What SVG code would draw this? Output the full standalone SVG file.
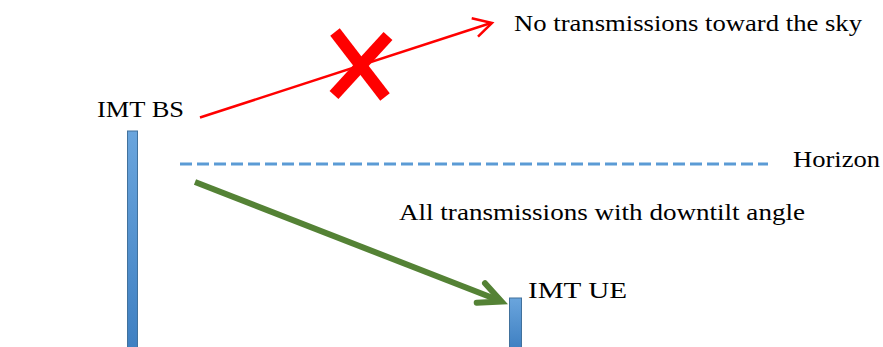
<svg xmlns="http://www.w3.org/2000/svg" width="883" height="347" viewBox="0 0 883 347">
<style>
.t{font-family:'Liberation Serif','Times New Roman',Times,serif;font-size:24px;fill:#000}
.pole{fill:url(#pg);stroke:#41719C;stroke-width:1}
</style>
<defs>
<linearGradient id="pg" x1="0" y1="0" x2="0" y2="1">
<stop offset="0" stop-color="#6AA5DD"/>
<stop offset="1" stop-color="#3F80C2"/>
</linearGradient>
</defs>
<rect width="883" height="347" fill="#fff"/>
<g id="bs">
<rect class="pole" x="127.5" y="131" width="10" height="217"/>
<text class="t" font-family="Liberation Serif" x="97" y="116.5" textLength="87" lengthAdjust="spacingAndGlyphs">IMT BS</text>
</g>
<g id="ue">
<rect class="pole" x="509.5" y="298" width="12" height="50"/>
<text class="t" font-family="Liberation Serif" x="528" y="298" textLength="99" lengthAdjust="spacingAndGlyphs">IMT UE</text>
</g>
<g id="horizon">
<text class="t" font-family="Liberation Serif" x="793" y="167" textLength="87" lengthAdjust="spacingAndGlyphs">Horizon</text>
</g>
<g id="labels">
<text class="t" font-family="Liberation Serif" x="514" y="31" textLength="348" lengthAdjust="spacingAndGlyphs">No transmissions toward the sky</text>
<text class="t" font-family="Liberation Serif" x="399" y="220" textLength="406" lengthAdjust="spacingAndGlyphs">All transmissions with downtilt angle</text>
</g>
<g id="connectors">
<line x1="180" y1="164" x2="768" y2="164" stroke="#5B9BD5" stroke-width="3" stroke-dasharray="12,5"/>
<line x1="200" y1="117.5" x2="491" y2="23" stroke="#FF0000" stroke-width="2.5"/>
<polyline points="471.7,18.3 492,23 478,36.7" fill="none" stroke="#FF0000" stroke-width="2.5"/>
<line x1="195" y1="182" x2="498" y2="300" stroke="#548235" stroke-width="6"/>
<polyline points="485,283.3 501.5,301.5 476.7,302.7" fill="none" stroke="#548235" stroke-width="6" stroke-linecap="round" stroke-linejoin="miter"/>
<g id="cross" stroke="#FF0000" stroke-width="12">
<line x1="335" y1="32" x2="385" y2="97"/>
<line x1="388" y1="36" x2="334" y2="95"/>
</g>
</g>
</svg>
